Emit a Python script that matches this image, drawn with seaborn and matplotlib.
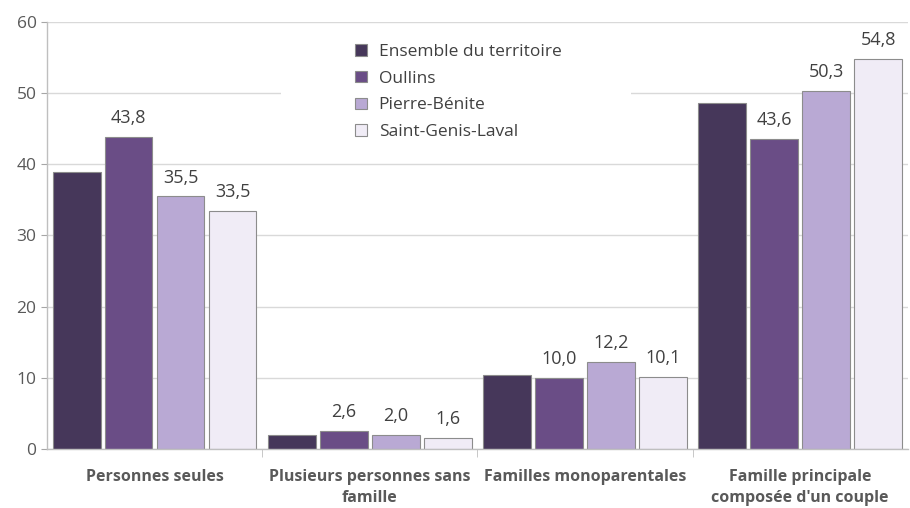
import matplotlib
matplotlib.use("Agg")
import matplotlib.pyplot as plt
from matplotlib.patches import Rectangle
import seaborn as sns
import pandas as pd

# =======================
# Data
# =======================
categories = [
    "Personnes seules",
    "Plusieurs personnes sans\nfamille",
    "Familles monoparentales",
    "Famille principale\ncomposée d'un couple",
]
territories = ["Ensemble du territoire", "Oullins", "Pierre-Bénite", "Saint-Genis-Laval"]
ensemble = [38.9, 2.0, 10.4, 48.6]
oullins = [43.8, 2.6, 10.0, 43.6]
pierre_benite = [35.5, 2.0, 12.2, 50.3]
saint_genis = [33.5, 1.6, 10.1, 54.8]
labelled = [False, True, True, True]  # Ensemble bars carry no value label

colors = ["#46375a", "#6a4d86", "#b9a9d4", "#f0ecf6"]

rows = []
for terr, vals in zip(territories, [ensemble, oullins, pierre_benite, saint_genis]):
    for cat, v in zip(categories, vals):
        rows.append({"categorie": cat, "territoire": terr, "valeur": v})
df = pd.DataFrame(rows)

# =======================
# Plot
# =======================
sns.set_style("white")
plt.rcParams["font.family"] = ["Open Sans", "DejaVu Sans"]

fig = plt.figure(figsize=(9.1, 5.08), dpi=100)
ax = fig.add_axes([0.0516, 0.116, 0.946, 0.841])

ax.set_axisbelow(True)
ax.yaxis.grid(True, color="#d9d9d9", linewidth=1.0)

sns.barplot(data=df, x="categorie", y="valeur", hue="territoire",
            hue_order=territories, order=categories, palette=colors,
            width=0.965, gap=0.08, edgecolor="#8c8c8c", linewidth=0.8,
            saturation=1, ax=ax)

# value labels (skip first series)
for cont, show in zip(ax.containers, labelled):
    if show:
        ax.bar_label(cont, labels=[f"{b.get_height():.1f}".replace(".", ",") for b in cont],
                     padding=7, fontsize=13, color="#404040")

ax.set_ylim(0, 60)
ax.set_xlim(-0.5, 3.5)
ax.set_yticks(range(0, 61, 10))
ax.set_xlabel("")
ax.set_ylabel("")
ax.tick_params(axis="y", labelsize=12.5, labelcolor="#595959", length=4,
               color="#a6a6a6", left=True, direction="out")
ax.tick_params(axis="x", which="major", length=0, pad=14)
for lbl in ax.get_xticklabels():
    lbl.set_fontweight("bold")
    lbl.set_fontsize(11.5)
    lbl.set_color("#595959")
    lbl.set_linespacing(1.45)
ax.set_xticks([0.5, 1.5, 2.5], minor=True)
ax.tick_params(axis="x", which="minor", length=6, color="#bfbfbf", bottom=True)

for side in ["top", "right"]:
    ax.spines[side].set_visible(False)
for side in ["left", "bottom"]:
    ax.spines[side].set_color("#bfbfbf")
    ax.spines[side].set_linewidth(1.0)

# white legend area hiding the gridline
ax.add_patch(Rectangle((0.272, 0.70), 0.406, 0.28, transform=ax.transAxes,
                       facecolor="white", edgecolor="none", zorder=1.5))
leg = ax.legend(loc="upper left", bbox_to_anchor=(0.34, 0.985), frameon=False,
                fontsize=12.5, handlelength=0.65, handleheight=0.65,
                handletextpad=0.7, labelspacing=0.62)
for t in leg.get_texts():
    t.set_color("#404040")

fig.savefig("out.png", dpi=100)
